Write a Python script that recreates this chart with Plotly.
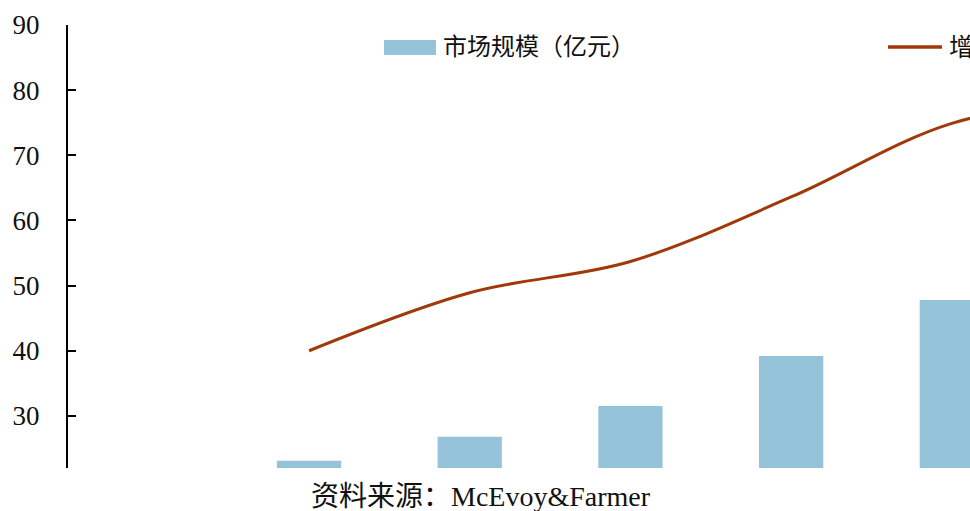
import plotly.graph_objects as go

# ---- data ----
categories = ["2015", "2016", "2017", "2018", "2019", "2020", "2021"]
market_size = [None, 23.1, 26.8, 31.5, 39.2, 47.8, None]      # 市场规模（亿元）
growth = [None, 40.0, 48.9, 53.7, 63.6, 74.9, 79.0]           # 增速（%）
y_ticks = [30, 40, 50, 60, 70, 80, 90]

bar_name = "市场规模（亿元）"
line_name = "增速（%）"
source_text = "资料来源：McEvoy&Farmer"

BAR_COLOR = "#95C4DA"
LINE_COLOR = "#A0380A"
FONT = "Liberation Serif, 'Noto Sans CJK SC', serif"

W, H = 970, 511
L, R, T, B = 68, 0, 25, 43
pw, ph = W - L - R, H - T - B


def px_x(p):
    return (p - L) / pw


def px_y(p):
    return (H - B - p) / ph


fig = go.Figure()
fig.add_trace(go.Bar(
    x=categories, y=market_size, name=bar_name,
    marker=dict(color=BAR_COLOR, line=dict(width=0)),
    width=0.4, showlegend=False,
))
fig.add_trace(go.Scatter(
    x=categories, y=growth, name=line_name, mode="lines",
    line=dict(color=LINE_COLOR, width=3, shape="spline", smoothing=1.0),
    connectgaps=False, showlegend=False,
))

# manual legend (layout decoration)
shapes = [
    dict(type="rect", xref="paper", yref="paper",
         x0=px_x(384), x1=px_x(436), y0=px_y(55), y1=px_y(40),
         fillcolor=BAR_COLOR, line=dict(width=0)),
    dict(type="line", xref="paper", yref="paper",
         x0=px_x(888), x1=px_x(942), y0=px_y(47), y1=px_y(47),
         line=dict(color=LINE_COLOR, width=3.5)),
]
annotations = [
    dict(text=bar_name, xref="paper", yref="paper", x=px_x(441), y=px_y(47),
         xanchor="left", yanchor="middle", showarrow=False,
         font=dict(family=FONT, size=24, color="#111")),
    dict(text=line_name, xref="paper", yref="paper", x=px_x(947), y=px_y(47),
         xanchor="left", yanchor="middle", showarrow=False,
         font=dict(family=FONT, size=25, color="#111")),
    dict(text=source_text, xref="paper", yref="paper", x=px_x(309), y=px_y(496),
         xanchor="left", yanchor="middle", showarrow=False,
         font=dict(family=FONT, size=28, color="#111")),
]

fig.update_layout(
    width=W, height=H,
    margin=dict(l=L, r=R, t=T, b=B, pad=0),
    paper_bgcolor="white", plot_bgcolor="white",
    shapes=shapes, annotations=annotations,
    font=dict(family=FONT, color="#111"),
    xaxis=dict(type="category", range=[-0.5, 5.113], showline=False,
               showgrid=False, zeroline=False, showticklabels=False, ticks=""),
    yaxis=dict(range=[22, 90], tickvals=y_ticks, showgrid=False, zeroline=False,
               showline=True, linecolor="black", linewidth=2,
               ticks="inside", ticklen=8, tickwidth=2, tickcolor="black",
               ticklabelstandoff=21,
               tickfont=dict(family=FONT, size=27, color="#111")),
)

fig.write_html("out.html", config={"displayModeBar": False},
               post_script="document.body.style.margin='0';document.body.style.overflow='hidden';")
